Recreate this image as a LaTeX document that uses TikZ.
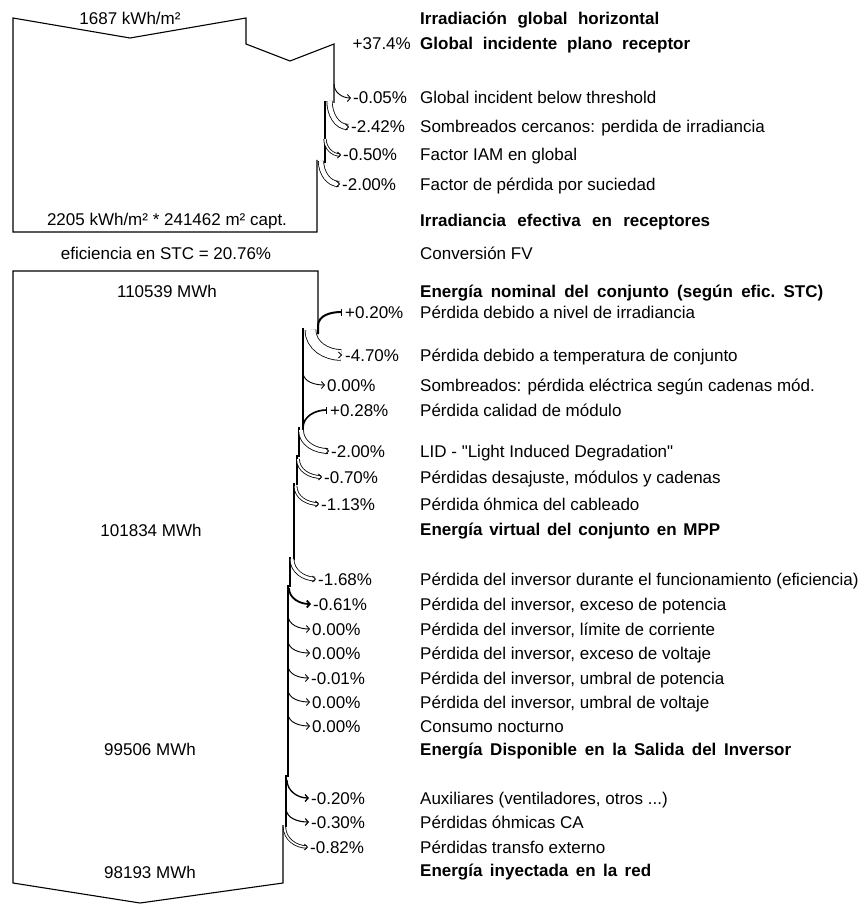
\documentclass[tikz,border=0pt]{standalone}
\usepackage{fontspec}
\setmainfont{Liberation Sans}
% same face without the TeX quote ligatures, for straight double quotes
\newfontfamily\plainsans{Liberation Sans}
\usetikzlibrary{arrows.meta}
% a heading line whose word gaps are stretched to a given width
\newcommand\wideline[2]{\makebox[#1pt][s]{\frenchspacing #2}}
\newcommand\straightquote{{\plainsans\symbol{34}}}
\begin{document}
\begin{tikzpicture}[x=1pt,y=-1pt,
  txt/.style={font=\fontsize{17}{20}\selectfont, inner sep=0pt, text height=12pt, text depth=0pt},
  lab/.style={txt, anchor=west},
  bold/.style={txt, anchor=west, font=\fontsize{17}{20}\selectfont\bfseries},
  pct/.style={txt, anchor=west},
  flow/.style={line width=1.1pt, line join=miter},
  thinloss/.style={line width=#1, -{Straight Barb[length=3pt,width=7pt]}},
  thinloss/.default=0.9pt,
  bandloss/.style={line width=0.8pt, double, double distance=#1, -{Straight Barb[length=3pt]}},
  gain/.style={line width=#1, -{Bar[width=7pt,line width=0.9pt]}}
]
\useasboundingbox (0,0) rectangle (861,904);

% ---------- irradiance block ----------
\draw[flow] (334,103) -- (334,44) -- (290,61) -- (246,44) -- (246,18) -- (130,38)
  -- (13,18) -- (13,232) -- (317,232) -- (317,160);
\draw[flow] (325,101) -- (325,163);

\node[txt] (ghi) at (130,19) {1687 kWh/m²};
\node[txt] (eff) at (167,219) {2205 kWh/m² * 241462 m² capt.};
\node[txt] (stc) at (166,253) {eficiencia en STC = 20.76\%};

\node[bold] (t0) at (420,19) {\wideline{239}{Irradiación global horizontal}};
\node[txt,anchor=east] (pg) at (411,44) {+37.4\%};
\node[bold] (t1) at (420,44) {\wideline{270}{Global incidente plano receptor}};
\node[pct] (p1) at (353,98) {-0.05\%};
\node[lab] (t2) at (420,98) {Global incident below threshold};
\node[pct] (p2) at (351,127) {-2.42\%};
\node[lab] (t3) at (420,127) {Sombreados cercanos: perdida de irradiancia};
\node[pct] (p3) at (343,155) {-0.50\%};
\node[lab] (t4) at (420,155) {Factor IAM en global};
\node[pct] (p4) at (342,184) {-2.00\%};
\node[lab] (t5) at (420,184) {Factor de pérdida por suciedad};
\node[bold] (t6) at (420,220) {\wideline{290}{Irradiancia efectiva en receptores}};
\node[lab] (t7) at (420,253) {Conversión FV};

\coordinate (a1) at (334,84);
\coordinate (a2) at (329.5,101);
\coordinate (a3) at (325,139);
\coordinate (a4) at (321,161);
\draw[thinloss] (a1) to[out=-90,in=180] ([xshift=-2pt]p1.west);
\draw[bandloss=4.5pt] (a2) to[out=-90,in=180] ([xshift=-2pt]p2.west);
\draw[bandloss=1.6pt] (a3) to[out=-90,in=180] ([xshift=-2pt]p3.west);
\draw[bandloss=4.5pt] (a4) to[out=-90,in=180] ([xshift=-2pt]p4.west);

% ---------- energy block ----------
\draw[flow] (318,334) -- (318,271) -- (13,271) -- (13,883) -- (140,903) -- (283,883) -- (283,825);
\draw[flow] (303,328) -- (303,432);
\draw[flow] (299,427) -- (299,457);
\draw[flow] (297,455) -- (297,485);
\draw[flow] (294,483) -- (294,560);
\draw[flow] (290,557) -- (290,587);
\draw[flow] (288,585) -- (288,777);
\draw[flow] (286,775) -- (286,827);

\node[txt] (e0) at (167,291) {110539 MWh};
\node[txt] (e1) at (151,530) {101834 MWh};
\node[txt] (e2) at (150,749) {99506 MWh};
\node[txt] (e3) at (150,872) {98193 MWh};

\node[bold] (s0) at (420,291) {\wideline{403}{Energía nominal del conjunto (según efic. STC)}};
\node[pct] (q1) at (345,312) {+0.20\%};
\node[lab] (s1) at (420,312) {Pérdida debido a nivel de irradiancia};
\node[pct] (q2) at (345,355) {-4.70\%};
\node[lab] (s2) at (420,355) {Pérdida debido a temperatura de conjunto};
\node[pct] (q3) at (327,385) {0.00\%};
\node[lab] (s3) at (420,385) {Sombreados: pérdida eléctrica según cadenas mód.};
\node[pct] (q4) at (330,410) {+0.28\%};
\node[lab] (s4) at (420,410) {Pérdida calidad de módulo};
\node[pct] (q5) at (331,451) {-2.00\%};
\node[lab] (s5) at (420,451) {LID - \straightquote Light Induced Degradation\straightquote};
\node[pct] (q6) at (324,477) {-0.70\%};
\node[lab] (s6) at (420,477) {Pérdidas desajuste, módulos y cadenas};
\node[pct] (q7) at (321,504) {-1.13\%};
\node[lab] (s7) at (420,504) {Pérdida óhmica del cableado};
\node[bold] (s8) at (420,529) {\wideline{300}{Energía virtual del conjunto en MPP}};
\node[pct] (q8) at (318,579) {-1.68\%};
\node[lab] (s9) at (420,579) {Pérdida del inversor durante el funcionamiento (eficiencia)};
\node[pct] (q9) at (313,604) {-0.61\%};
\node[lab] (s10) at (420,604) {Pérdida del inversor, exceso de potencia};
\node[pct] (q10) at (312,629) {0.00\%};
\node[lab] (s11) at (420,629) {Pérdida del inversor, límite de corriente};
\node[pct] (q11) at (312,653) {0.00\%};
\node[lab] (s12) at (420,653) {Pérdida del inversor, exceso de voltaje};
\node[pct] (q12) at (311,678) {-0.01\%};
\node[lab] (s13) at (420,678) {Pérdida del inversor, umbral de potencia};
\node[pct] (q13) at (312,702) {0.00\%};
\node[lab] (s14) at (420,702) {Pérdida del inversor, umbral de voltaje};
\node[pct] (q14) at (312,726) {0.00\%};
\node[lab] (s15) at (420,726) {Consumo nocturno};
\node[bold] (s16) at (420,749) {\wideline{371}{Energía Disponible en la Salida del Inversor}};
\node[pct] (q15) at (311,798) {-0.20\%};
\node[lab] (s17) at (420,798) {Auxiliares (ventiladores, otros ...)};
\node[pct] (q16) at (311,822) {-0.30\%};
\node[lab] (s18) at (420,822) {Pérdidas óhmicas CA};
\node[pct] (q17) at (310,847) {-0.82\%};
\node[lab] (s19) at (420,847) {Pérdidas transfo externo};
\node[bold] (s20) at (420,870) {\wideline{231}{Energía inyectada en la red}};

% gains enter the flow from the right
\coordinate (g1) at (318,334);
\coordinate (g2) at (303,434);
\draw[gain=2pt] (g1) -- ++(0,-8) to[out=90,in=180] ([xshift=-3pt]q1.west);
\draw[gain=1.6pt] (g2) -- ++(0,-6) to[out=90,in=180] ([xshift=-3pt]q4.west);

% losses leave the flow to the right
\coordinate (b2) at (310.5,330);
\coordinate (b3) at (303,372);
\coordinate (b5) at (301,430);
\coordinate (b6) at (298,459);
\coordinate (b7) at (295.5,486);
\coordinate (b8) at (292,559);
\coordinate (b9) at (289,588);
\coordinate (b10) at (288,615);
\coordinate (b11) at (288,640);
\coordinate (b12) at (288,665);
\coordinate (b13) at (288,689);
\coordinate (b14) at (288,713);
\coordinate (b15) at (287,780);
\coordinate (b16) at (286,808);
\coordinate (b17) at (284.5,827);
\draw[bandloss=10pt] (b2) to[out=-90,in=180] ([xshift=-3pt]q2.west);
\draw[thinloss] (b3) to[out=-90,in=180] ([xshift=-2pt]q3.west);
\draw[bandloss=4pt] (b5) to[out=-90,in=180] ([xshift=-2pt]q5.west);
\draw[bandloss=2pt] (b6) to[out=-90,in=180] ([xshift=-2pt]q6.west);
\draw[bandloss=2pt] (b7) to[out=-90,in=180] ([xshift=-2pt]q7.west);
\draw[bandloss=3pt] (b8) to[out=-90,in=180] ([xshift=-2pt]q8.west);
\draw[thinloss=1.8pt] (b9) to[out=-90,in=180] ([xshift=-2pt]q9.west);
\draw[thinloss] (b10) to[out=-90,in=180] ([xshift=-2pt]q10.west);
\draw[thinloss] (b11) to[out=-90,in=180] ([xshift=-2pt]q11.west);
\draw[thinloss] (b12) to[out=-90,in=180] ([xshift=-2pt]q12.west);
\draw[thinloss] (b13) to[out=-90,in=180] ([xshift=-2pt]q13.west);
\draw[thinloss] (b14) to[out=-90,in=180] ([xshift=-2pt]q14.west);
\draw[thinloss=1.3pt] (b15) to[out=-90,in=180] ([xshift=-2pt]q15.west);
\draw[thinloss=1.1pt] (b16) to[out=-90,in=180] ([xshift=-2pt]q16.west);
\draw[bandloss=1.6pt] (b17) to[out=-90,in=180] ([xshift=-2pt]q17.west);
\end{tikzpicture}
\end{document}
